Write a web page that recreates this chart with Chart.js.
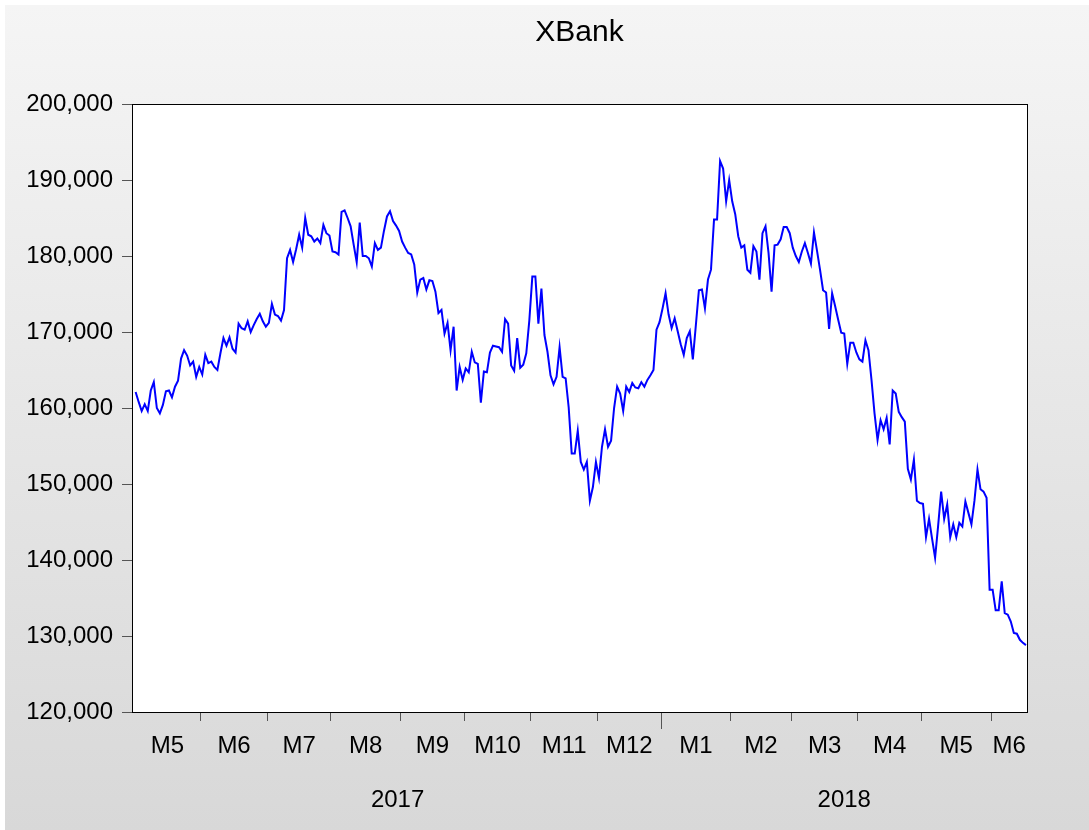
<!DOCTYPE html>
<html>
<head>
<meta charset="utf-8">
<title>XBank</title>
<script src="https://cdn.jsdelivr.net/npm/chart.js@4/dist/chart.umd.min.js"></script>
<style>
  html, body { margin: 0; padding: 0; background: #fff; }
  canvas { display: block; }
</style>
</head>
<body>
<canvas id="chart" width="1089" height="830"></canvas>
<script>
// series, one value per trading day, grouped by month
const may2017 = [162100, 160800, 159600, 160500, 159600, 162300, 163400, 160000, 159300, 160400, 162200, 162300, 161400, 162800, 163600, 166500, 167600, 166900, 165600, 166100, 164100, 165400];
const jun2017 = [164400, 167000, 165900, 166100, 165400, 165000, 167200, 169200, 168200, 169300, 167800, 167300, 171100, 170500, 170300, 171400, 170000, 170900, 171700, 172400, 171400, 170700];
const jul2017 = [171200, 173700, 172300, 172100, 171500, 172900, 179700, 180800, 179200, 180900, 182800, 181100, 185000, 182800, 182600, 181900, 182300, 181700, 184100, 183000, 182700];
const aug2017 = [180600, 180500, 180200, 185800, 186000, 185000, 183900, 181500, 179200, 184400, 180000, 180000, 179700, 178600, 181700, 180800, 181100, 183300, 185200, 185900, 184600, 184000, 183300];
const sep2017 = [181900, 181100, 180400, 180200, 178900, 175200, 176900, 177100, 175600, 176800, 176700, 175300, 172500, 172900, 169800, 171200, 167600, 170700, 162300, 165400, 163700];
const oct2017 = [165200, 164700, 167400, 166000, 165800, 160700, 164800, 164700, 167300, 168200, 168100, 168000, 167400, 171700, 171100, 165600, 164900, 169200, 165300, 165700, 167200, 171500];
const nov2017 = [177300, 177300, 171100, 175700, 169600, 167400, 164300, 163100, 164100, 168000, 164100, 163900, 160100, 154000, 154000, 157000, 152900, 151900, 152900, 147800, 149600, 152900];
const dec2017 = [150800, 154900, 157200, 154900, 155700, 160000, 162800, 161900, 159600, 162800, 162100, 163300, 162700, 162600, 163400, 162800, 163700, 164300, 165000, 170300, 171300];
const jan2018 = [173100, 175100, 172300, 170500, 171800, 170100, 168400, 167000, 169200, 170100, 166400, 170900, 175500, 175600, 173100, 176900, 178200, 184800, 184800, 192500, 191500, 187200, 190000];
const feb2018 = [187200, 185500, 182600, 181100, 181400, 178200, 177800, 181300, 180600, 176900, 183000, 183900, 180400, 175300, 181400, 181500, 182200, 183800, 183800, 183000];
const mar2018 = [181100, 180000, 179200, 180600, 181700, 180400, 179000, 183100, 180700, 178200, 175500, 175200, 170400, 175100, 173400, 171600, 169900, 169800, 165800, 168600, 168600, 167300];
const apr2018 = [166400, 166100, 168900, 167600, 163700, 159300, 155800, 158400, 157200, 158700, 155200, 162300, 161900, 159500, 158800, 158200, 152000, 150600, 153200, 147800, 147500];
const may2018 = [147400, 143000, 145400, 142800, 140300, 144500, 149000, 145400, 147300, 143000, 144700, 143000, 144900, 144400, 147700, 146200, 144700, 147800, 151900, 149300, 149000, 148200, 136100];
const jun2018 = [136100, 133400, 133400, 137200, 133000, 132800, 131900, 130400, 130300, 129500, 129100, 128800];

const monthLabels = ['M5', 'M6', 'M7', 'M8', 'M9', 'M10', 'M11', 'M12', 'M1', 'M2', 'M3', 'M4', 'M5', 'M6'];
const years = ['2017', '2018'];
const monthsPerYear = [8, 6];
const yTicks = [120000, 130000, 140000, 150000, 160000, 170000, 180000, 190000, 200000];

const months = [may2017, jun2017, jul2017, aug2017, sep2017, oct2017, nov2017, dec2017,
                jan2018, feb2018, mar2018, apr2018, may2018, jun2018];
const values = months.flat();

// month starts / boundaries in trading-day index
const starts = [];
let n = 0;
months.forEach(m => { starts.push(n); n += m.length; });
const last = n - 1;
const boundaries = starts.slice(1).map(s => s - 0.5);
const monthMid = starts.map((s, k) => s - 0.5 + months[k].length / 2);
const yearBreak = starts[monthsPerYear[0]] - 0.5;
const yearMid = [(-0.5 + yearBreak) / 2, (yearBreak + last + 0.5) / 2];

const font = { family: "'Liberation Sans', Arial, sans-serif", size: 24 };
const xMin = -1.2, xMax = last + 0.35;

const panel = {
    id: 'panel',
    beforeDraw(chart) {
        const { ctx, width, height, chartArea: a } = chart;
        ctx.save();
        ctx.fillStyle = '#fff';
        ctx.fillRect(0, 0, width, height);
        const g = ctx.createLinearGradient(0, 5, 0, height);
        g.addColorStop(0, '#f5f5f5');
        g.addColorStop(1, '#d8d8d8');
        ctx.fillStyle = g;
        ctx.fillRect(5, 5, width - 5, height - 5);
        ctx.fillStyle = '#fff';
        ctx.fillRect(a.left, a.top, a.right - a.left, a.bottom - a.top);
        ctx.restore();
    },
    afterDraw(chart) {
        const { ctx, chartArea: a } = chart;
        ctx.save();
        ctx.strokeStyle = '#000';
        ctx.lineWidth = 1;
        ctx.strokeRect(Math.round(a.left) + 0.5, Math.round(a.top) + 0.5,
            Math.round(a.right - a.left), Math.round(a.bottom - a.top));
        ctx.restore();
    }
};

new Chart(document.getElementById('chart'), {
    type: 'line',
    data: {
        datasets: [{
            label: 'XBank',
            data: values.map((v, i) => ({ x: i, y: v })),
            borderColor: '#0000ff',
            borderWidth: 2,
            pointRadius: 0,
            tension: 0,
            fill: false
        }]
    },
    options: {
        responsive: false,
        animation: false,
        layout: { padding: { left: 20, right: 62, top: 0, bottom: 14 } },
        plugins: {
            legend: { display: false },
            tooltip: { enabled: false },
            title: {
                display: true,
                text: 'XBank',
                fullSize: false,
                color: '#000',
                font: { family: font.family, size: 30, weight: 'normal' },
                padding: { top: 15, bottom: 53 }
            }
        },
        scales: {
            x: {
                type: 'linear', position: 'bottom', weight: 1, min: xMin, max: xMax,
                afterBuildTicks: s => { s.ticks = boundaries.map(v => ({ value: v })); },
                afterFit: s => { s.height = 9; },
                ticks: { display: false },
                grid: { drawOnChartArea: false, tickLength: 9, color: '#555' },
                border: { display: true, color: '#000' }
            },
            xm: {
                type: 'linear', position: 'bottom', weight: 2, min: xMin, max: xMax,
                afterBuildTicks: s => {
                    s.ticks = monthMid.map(v => ({ value: v })).concat([{ value: yearBreak }]);
                },
                afterFit: s => { s.height = 50; },
                ticks: {
                    autoSkip: false, maxRotation: 0, minRotation: 0, padding: 3,
                    color: '#000', font: font,
                    callback: (v, i) => monthLabels[i] || ''
                },
                grid: {
                    drawOnChartArea: false, tickLength: 8,
                    color: c => c.index >= monthLabels.length ? '#555' : 'rgba(0,0,0,0)'
                },
                border: { display: false }
            },
            xy: {
                type: 'linear', position: 'bottom', weight: 3, min: xMin, max: xMax,
                afterBuildTicks: s => { s.ticks = yearMid.map(v => ({ value: v })); },
                afterFit: s => { s.height = 45; },
                ticks: {
                    autoSkip: false, maxRotation: 0, minRotation: 0, padding: 15,
                    color: '#000', font: font,
                    callback: (v, i) => years[i]
                },
                grid: { display: false, drawTicks: false },
                border: { display: false }
            },
            y: {
                min: 120000, max: 200000,
                afterBuildTicks: s => { s.ticks = yTicks.map(v => ({ value: v })); },
                afterFit: s => { s.width = 112; },
                ticks: {
                    padding: 9, color: '#000', font: font,
                    callback: v => v.toLocaleString('en-US')
                },
                grid: { drawOnChartArea: false, tickLength: 10, color: '#555' },
                border: { color: '#000' }
            }
        }
    },
    plugins: [panel]
});
</script>
</body>
</html>
